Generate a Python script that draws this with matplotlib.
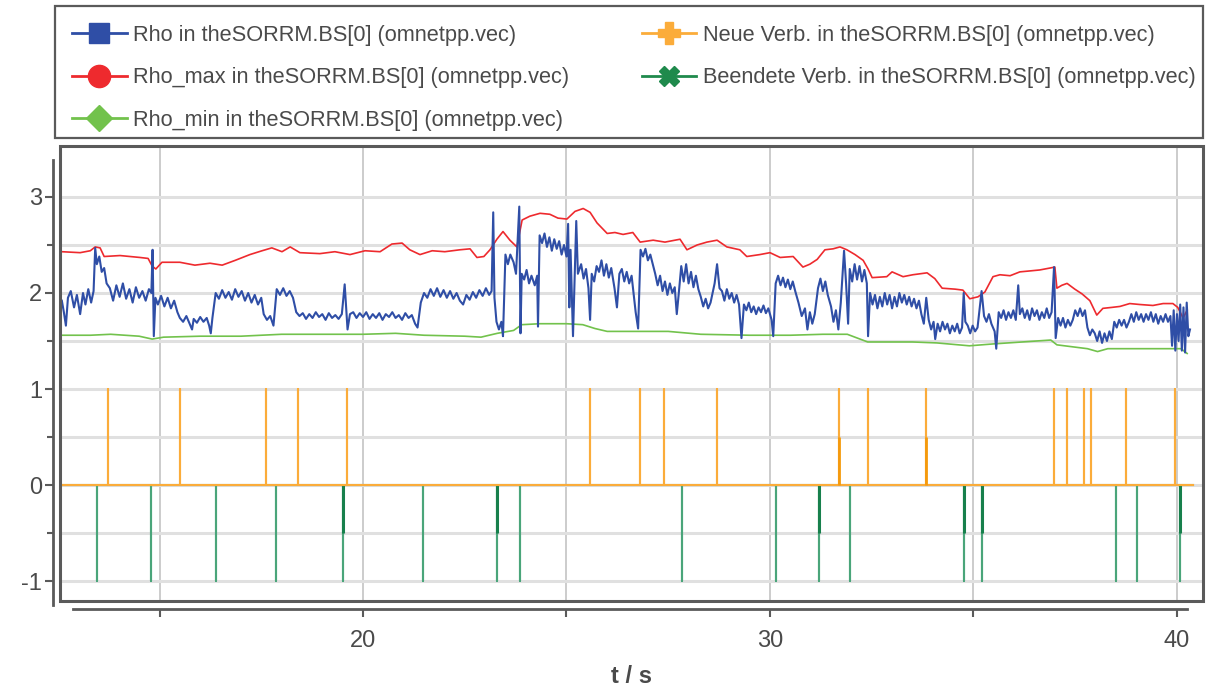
import matplotlib
matplotlib.use("Agg")
import matplotlib.pyplot as plt
from matplotlib.lines import Line2D
from matplotlib.patches import Rectangle

# ---------------------------------------------------------------- data
series_labels = [
    "Rho in theSORRM.BS[0] (omnetpp.vec)",
    "Rho_max in theSORRM.BS[0] (omnetpp.vec)",
    "Rho_min in theSORRM.BS[0] (omnetpp.vec)",
    "Neue Verb. in theSORRM.BS[0] (omnetpp.vec)",
    "Beendete Verb. in theSORRM.BS[0] (omnetpp.vec)",
]
x_label = "t / s"

# Rho (time [s], value)
rho = [
    (12.60, 1.92), (12.65, 1.80), (12.70, 1.66), (12.75, 1.95), (12.82, 2.02), (12.90, 1.85),
    (12.97, 1.98), (13.05, 1.78), (13.12, 2.00), (13.18, 1.88), (13.25, 2.04), (13.32, 1.90),
    (13.38, 2.02), (13.42, 2.47), (13.46, 2.30), (13.52, 2.38), (13.58, 2.22), (13.64, 2.26),
    (13.70, 2.10), (13.78, 2.05), (13.86, 1.92), (13.94, 2.08), (14.02, 1.96), (14.10, 2.10),
    (14.18, 1.94), (14.26, 2.04), (14.34, 1.90), (14.42, 2.06), (14.50, 1.95), (14.58, 2.02),
    (14.66, 1.92), (14.74, 2.04), (14.80, 2.00), (14.83, 2.45), (14.86, 1.55), (14.90, 1.95),
    (14.96, 1.88), (15.04, 1.97), (15.12, 1.86), (15.20, 1.95), (15.28, 1.84), (15.36, 1.92),
    (15.44, 1.80), (15.50, 1.74), (15.58, 1.70), (15.66, 1.76), (15.74, 1.68), (15.80, 1.62),
    (15.84, 1.73), (15.92, 1.69), (16.00, 1.75), (16.08, 1.70), (16.16, 1.74), (16.22, 1.66),
    (16.26, 1.58), (16.30, 1.74), (16.38, 2.00), (16.46, 1.94), (16.54, 2.03), (16.62, 1.95),
    (16.70, 2.01), (16.78, 1.93), (16.86, 2.04), (16.94, 1.96), (17.02, 2.02), (17.10, 1.92),
    (17.18, 2.00), (17.26, 1.90), (17.34, 1.98), (17.42, 1.88), (17.50, 1.95), (17.56, 1.78),
    (17.64, 1.72), (17.72, 1.76), (17.80, 1.66), (17.88, 2.04), (17.96, 1.98), (18.04, 2.05),
    (18.12, 1.97), (18.20, 2.02), (18.28, 1.95), (18.36, 1.80), (18.44, 1.76), (18.52, 1.79),
    (18.60, 1.73), (18.68, 1.78), (18.76, 1.74), (18.84, 1.80), (18.92, 1.75), (19.00, 1.78),
    (19.08, 1.72), (19.16, 1.79), (19.24, 1.74), (19.32, 1.77), (19.40, 1.73), (19.48, 1.78),
    (19.55, 2.09), (19.62, 1.62), (19.68, 1.78), (19.76, 1.80), (19.84, 1.74), (19.92, 1.79),
    (20.00, 1.75), (20.08, 1.80), (20.16, 1.73), (20.24, 1.78), (20.32, 1.74), (20.40, 1.79),
    (20.48, 1.72), (20.56, 1.78), (20.64, 1.75), (20.72, 1.80), (20.80, 1.74), (20.88, 1.77),
    (20.96, 1.72), (21.04, 1.79), (21.12, 1.74), (21.20, 1.77), (21.28, 1.68), (21.34, 1.64),
    (21.42, 1.90), (21.50, 2.00), (21.58, 1.95), (21.66, 2.04), (21.74, 1.97), (21.82, 2.05),
    (21.90, 1.96), (21.98, 2.03), (22.06, 1.95), (22.14, 2.02), (22.22, 1.94), (22.30, 2.00),
    (22.38, 1.92), (22.46, 1.88), (22.54, 1.98), (22.62, 1.93), (22.70, 2.01), (22.78, 1.95),
    (22.86, 2.03), (22.94, 1.97), (23.02, 2.05), (23.10, 1.98), (23.16, 2.02), (23.20, 2.84),
    (23.23, 1.95), (23.28, 1.70), (23.34, 1.62), (23.40, 1.70), (23.44, 1.55), (23.50, 2.40),
    (23.56, 2.30), (23.62, 2.40), (23.70, 2.32), (23.76, 2.20), (23.84, 2.90), (23.87, 1.58),
    (23.90, 2.20), (23.96, 2.14), (24.02, 2.24), (24.08, 2.10), (24.14, 2.18), (24.22, 2.08),
    (24.28, 2.18), (24.30, 1.65), (24.34, 2.60), (24.40, 2.52), (24.46, 2.62), (24.52, 2.48),
    (24.58, 2.58), (24.64, 2.44), (24.70, 2.56), (24.76, 2.46), (24.82, 2.54), (24.88, 2.40),
    (24.94, 2.50), (25.00, 2.38), (25.04, 2.72), (25.07, 1.85), (25.10, 2.45), (25.16, 1.55),
    (25.24, 2.75), (25.28, 2.20), (25.36, 2.30), (25.42, 2.15), (25.48, 2.25), (25.54, 2.05),
    (25.58, 1.72), (25.62, 2.20), (25.68, 2.12), (25.74, 2.28), (25.80, 2.22), (25.86, 2.34),
    (25.92, 2.18), (25.98, 2.30), (26.04, 2.16), (26.10, 2.26), (26.18, 2.05), (26.24, 1.85),
    (26.30, 2.20), (26.36, 2.25), (26.42, 2.12), (26.48, 2.22), (26.54, 2.10), (26.60, 2.18),
    (26.70, 1.80), (26.76, 1.63), (26.82, 2.45), (26.88, 2.38), (26.94, 2.46), (27.00, 2.34),
    (27.06, 2.40), (27.12, 2.30), (27.18, 2.20), (27.24, 2.08), (27.30, 2.18), (27.36, 2.02),
    (27.42, 2.12), (27.48, 1.98), (27.54, 2.10), (27.60, 2.00), (27.66, 2.06), (27.71, 1.78),
    (27.76, 2.00), (27.82, 2.28), (27.88, 2.12), (27.94, 2.30), (28.00, 2.10), (28.06, 2.22),
    (28.12, 2.06), (28.18, 2.18), (28.24, 2.04), (28.30, 1.96), (28.36, 1.86), (28.42, 1.94),
    (28.48, 1.84), (28.54, 1.90), (28.64, 2.10), (28.70, 2.30), (28.76, 2.05), (28.82, 2.02),
    (28.88, 1.92), (28.94, 2.04), (29.00, 1.94), (29.06, 2.00), (29.12, 1.90), (29.18, 1.98),
    (29.24, 1.88), (29.30, 1.53), (29.36, 1.88), (29.42, 1.82), (29.48, 1.90), (29.54, 1.80),
    (29.60, 1.86), (29.66, 1.78), (29.72, 1.85), (29.78, 1.80), (29.84, 1.87), (29.90, 1.79),
    (29.96, 1.84), (30.04, 1.72), (30.08, 1.55), (30.14, 2.10), (30.20, 2.18), (30.26, 2.08),
    (30.32, 2.16), (30.38, 2.06), (30.44, 2.14), (30.50, 2.04), (30.56, 2.12), (30.62, 2.02),
    (30.70, 1.90), (30.78, 1.76), (30.86, 1.84), (30.92, 1.62), (30.98, 1.80), (31.04, 1.68),
    (31.10, 1.78), (31.18, 2.05), (31.24, 2.15), (31.30, 2.02), (31.36, 2.12), (31.42, 1.98),
    (31.50, 1.86), (31.56, 1.70), (31.62, 1.82), (31.68, 1.62), (31.74, 1.90), (31.82, 2.44),
    (31.87, 2.10), (31.92, 1.68), (31.96, 2.25), (32.02, 2.12), (32.08, 2.30), (32.14, 2.14),
    (32.20, 2.28), (32.26, 2.12), (32.32, 2.24), (32.38, 2.10), (32.41, 1.55), (32.46, 2.00),
    (32.52, 1.88), (32.58, 1.98), (32.64, 1.84), (32.70, 1.96), (32.76, 1.86), (32.82, 2.00),
    (32.88, 1.88), (32.94, 1.98), (33.00, 1.84), (33.06, 1.96), (33.12, 1.86), (33.18, 2.00),
    (33.24, 1.90), (33.30, 1.98), (33.36, 1.88), (33.42, 1.96), (33.48, 1.86), (33.54, 1.94),
    (33.60, 1.84), (33.66, 1.92), (33.72, 1.78), (33.78, 1.68), (33.84, 1.95), (33.90, 1.72),
    (33.96, 1.62), (34.02, 1.70), (34.06, 1.52), (34.12, 1.68), (34.18, 1.60), (34.24, 1.70),
    (34.30, 1.62), (34.36, 1.68), (34.42, 1.58), (34.48, 1.66), (34.54, 1.60), (34.60, 1.68),
    (34.66, 1.58), (34.72, 1.64), (34.76, 2.00), (34.80, 1.70), (34.86, 1.66), (34.92, 1.58),
    (34.98, 1.66), (35.04, 1.60), (35.10, 1.64), (35.20, 2.02), (35.26, 1.76), (35.32, 1.70),
    (35.38, 1.78), (35.44, 1.68), (35.52, 1.60), (35.56, 1.42), (35.62, 1.80), (35.68, 1.74),
    (35.74, 1.82), (35.80, 1.72), (35.86, 1.80), (35.92, 1.74), (35.98, 1.82), (36.04, 1.72),
    (36.10, 2.08), (36.14, 1.78), (36.20, 1.84), (36.26, 1.74), (36.32, 1.82), (36.38, 1.72),
    (36.44, 1.84), (36.50, 1.76), (36.56, 1.82), (36.62, 1.72), (36.68, 1.80), (36.74, 1.74),
    (36.80, 1.84), (36.86, 1.74), (36.92, 1.80), (36.98, 2.27), (37.02, 1.53), (37.08, 1.74),
    (37.14, 1.66), (37.20, 1.74), (37.26, 1.64), (37.32, 1.72), (37.38, 1.66), (37.44, 1.72),
    (37.50, 1.82), (37.56, 1.76), (37.62, 1.84), (37.68, 1.76), (37.74, 1.82), (37.80, 1.64),
    (37.86, 1.56), (37.92, 1.62), (37.98, 1.58), (38.04, 1.50), (38.10, 1.60), (38.16, 1.48),
    (38.22, 1.58), (38.28, 1.50), (38.34, 1.60), (38.40, 1.52), (38.46, 1.70), (38.52, 1.64),
    (38.58, 1.72), (38.64, 1.66), (38.70, 1.72), (38.76, 1.64), (38.82, 1.70), (38.88, 1.78),
    (38.94, 1.70), (39.00, 1.80), (39.06, 1.72), (39.12, 1.78), (39.18, 1.70), (39.24, 1.78),
    (39.30, 1.72), (39.36, 1.80), (39.42, 1.70), (39.48, 1.78), (39.54, 1.68), (39.60, 1.76),
    (39.66, 1.70), (39.72, 1.78), (39.78, 1.70), (39.84, 1.76), (39.88, 1.45), (39.92, 1.82),
    (39.96, 1.40), (40.00, 1.78), (40.04, 1.50), (40.08, 1.88), (40.12, 1.40), (40.16, 1.85),
    (40.20, 1.38), (40.24, 1.90), (40.28, 1.55), (40.32, 1.62),
]

# Rho_max (time [s], value)
rho_max = [
    (12.60, 2.43), (13.05, 2.42), (13.30, 2.44), (13.42, 2.48), (13.54, 2.47), (13.64, 2.38),
    (14.03, 2.39), (14.52, 2.37), (14.72, 2.36), (14.82, 2.28), (14.91, 2.25), (15.06, 2.32),
    (15.50, 2.32), (15.87, 2.29), (16.24, 2.31), (16.54, 2.29), (16.86, 2.34), (17.22, 2.40),
    (17.52, 2.44), (17.76, 2.47), (18.01, 2.43), (18.21, 2.48), (18.45, 2.42), (18.94, 2.41),
    (19.31, 2.43), (19.68, 2.40), (20.05, 2.44), (20.42, 2.43), (20.71, 2.51), (20.96, 2.52),
    (21.15, 2.45), (21.40, 2.40), (21.70, 2.44), (22.01, 2.43), (22.38, 2.45), (22.63, 2.46),
    (22.80, 2.37), (22.97, 2.38), (23.12, 2.45), (23.29, 2.56), (23.44, 2.64), (23.61, 2.55),
    (23.78, 2.48), (23.91, 2.76), (24.10, 2.80), (24.35, 2.83), (24.59, 2.82), (24.79, 2.78),
    (25.01, 2.77), (25.21, 2.85), (25.41, 2.88), (25.58, 2.84), (25.75, 2.73), (26.00, 2.62),
    (26.19, 2.63), (26.39, 2.61), (26.63, 2.63), (26.81, 2.53), (27.13, 2.55), (27.42, 2.53),
    (27.79, 2.56), (27.96, 2.45), (28.21, 2.50), (28.45, 2.53), (28.70, 2.55), (28.94, 2.48),
    (29.26, 2.45), (29.43, 2.38), (29.75, 2.40), (30.00, 2.42), (30.25, 2.37), (30.57, 2.38),
    (30.81, 2.27), (30.98, 2.30), (31.16, 2.35), (31.35, 2.45), (31.55, 2.46), (31.72, 2.48),
    (31.89, 2.45), (32.09, 2.40), (32.29, 2.34), (32.41, 2.25), (32.51, 2.16), (32.87, 2.17),
    (33.00, 2.22), (33.27, 2.17), (33.51, 2.19), (33.86, 2.21), (34.05, 2.15), (34.23, 2.05),
    (34.55, 2.04), (34.74, 2.03), (34.91, 1.94), (35.11, 1.96), (35.28, 2.01), (35.48, 2.17),
    (35.65, 2.19), (35.90, 2.18), (36.14, 2.22), (36.39, 2.23), (36.63, 2.24), (36.88, 2.26),
    (37.00, 2.27), (37.05, 2.05), (37.17, 2.08), (37.30, 2.10), (37.49, 2.04), (37.67, 1.99),
    (37.86, 1.92), (38.03, 1.77), (38.18, 1.84), (38.40, 1.85), (38.60, 1.86), (38.84, 1.89),
    (39.09, 1.88), (39.41, 1.87), (39.66, 1.89), (39.90, 1.89), (40.02, 1.85), (40.15, 1.74),
    (40.25, 1.82),
]

# Rho_min (time [s], value)
rho_min = [
    (12.60, 1.56), (13.30, 1.56), (13.80, 1.57), (14.50, 1.55), (14.82, 1.52), (15.10, 1.54),
    (16.00, 1.55), (17.00, 1.55), (18.00, 1.57), (19.00, 1.57), (20.00, 1.57), (20.80, 1.58),
    (21.50, 1.56), (22.50, 1.55), (22.90, 1.54), (23.30, 1.58), (23.70, 1.61), (23.90, 1.67),
    (24.35, 1.68), (25.00, 1.68), (25.40, 1.67), (25.70, 1.63), (26.00, 1.60), (27.50, 1.60),
    (28.30, 1.57), (29.50, 1.56), (30.50, 1.56), (31.30, 1.57), (31.90, 1.57), (32.40, 1.49),
    (33.50, 1.49), (34.10, 1.48), (34.90, 1.45), (35.50, 1.47), (36.90, 1.51), (37.05, 1.46),
    (37.80, 1.42), (38.05, 1.39), (38.30, 1.42), (39.40, 1.42), (40.10, 1.42), (40.25, 1.37),
]

# connection events (time [s])
neue_verb = [13.73, 15.51, 17.61, 18.40, 19.60, 25.59, 26.80, 27.40, 28.69, 31.69,
             32.40, 33.83, 36.99, 37.29, 37.71, 37.89, 38.76, 39.94]
neue_verb_double = [31.69, 33.83]
beendete_verb = [13.47, 14.79, 16.39, 17.87, 19.52, 21.48, 23.29, 23.87, 27.83, 30.15,
                 31.20, 31.97, 34.76, 35.21, 38.50, 39.01, 40.07]
beendete_verb_double = [19.52, 23.29, 31.20, 34.76, 35.21, 40.07]
t_start, t_end = 12.60, 40.40

# ---------------------------------------------------------------- style
FAMILY = "Liberation Sans"
FS_TICK, FS_LEG = 17, 15.7
plt.rcParams["font.family"] = [FAMILY, "DejaVu Sans"]
plt.rcParams["axes.unicode_minus"] = False

C_RHO = "#2f4ea6"
C_MAX = "#ee2a2e"
C_MIN = "#72c24c"
C_NEU = "#fbac3a"
C_NEU_D = "#f59a0c"
C_END = "#4aa57a"
C_END_D = "#17804c"
C_TXT = "#4a4a4a"
C_AX = "#5a5a5a"

W, H = 1208, 690
fig = plt.figure(figsize=(W / 100, H / 100), dpi=100)
fig.patch.set_facecolor("white")

# axes frame in pixel terms
L, R, T, B = 60, 1203, 146, 601
ax = fig.add_axes([L / W, 1 - B / H, (R - L) / W, (B - T) / H])
ax.set_xlim(12.555, 40.64)
ax.set_ylim(-1.208, 3.531)


def spikes(times, level):
    xs, ys = [t_start], [0.0]
    for t in times:
        xs += [t, t, t]
        ys += [0.0, level, 0.0]
    xs.append(t_end)
    ys.append(0.0)
    return xs, ys


# Beendete Verb. (downward events)
bx, by = spikes(beendete_verb, -1.0)
ax.plot(bx, by, color=C_END, lw=1.5, zorder=3)
ax.vlines(beendete_verb_double, -0.5, 0.0, color=C_END_D, lw=2.2, zorder=3)

# Neue Verb. (upward events)
nx, ny = spikes(neue_verb, 1.0)
ax.plot(nx, ny, color=C_NEU, lw=1.5, zorder=4)
ax.vlines(neue_verb_double, 0.0, 0.5, color=C_NEU_D, lw=2.0, zorder=4)

# Rho curves
ax.plot([p[0] for p in rho_min], [p[1] for p in rho_min], color=C_MIN, lw=1.2, zorder=5)
ax.plot([p[0] for p in rho_max], [p[1] for p in rho_max], color=C_MAX, lw=1.2, zorder=5)
ax.plot([p[0] for p in rho], [p[1] for p in rho], color=C_RHO, lw=1.5, zorder=6)

# ticks and grid
ax.set_xticks([20, 30, 40])
ax.set_xticks([15, 25, 35], minor=True)
ax.set_yticks([-1, 0, 1, 2, 3])
ax.set_yticks([-0.5, 0.5, 1.5, 2.5], minor=True)
ax.xaxis.grid(True, which="both", color="#c8c8c8", lw=1.3, zorder=0)
ax.yaxis.grid(True, which="both", color="#e0e0e0", lw=2.2, zorder=0)
ax.set_axisbelow(True)

ax.tick_params(axis="both", which="both", direction="out", color=C_AX,
               labelsize=FS_TICK, labelcolor=C_TXT, width=1.5)
ax.tick_params(axis="y", which="major", length=6, pad=2)
ax.tick_params(axis="y", which="minor", length=4)
ax.tick_params(axis="x", which="both", length=6, pad=9)

for side in ("top", "right"):
    ax.spines[side].set_visible(False)
ax.spines["left"].set_position(("outward", 5))
ax.spines["bottom"].set_position(("outward", 6))
ax.spines["left"].set_bounds(-1.25, 3.38)
ax.spines["bottom"].set_bounds(12.87, 40.25)
for side in ("left", "bottom"):
    ax.spines[side].set_color(C_AX)
    ax.spines[side].set_linewidth(2.0)

# plot frame
ax.add_patch(Rectangle((0, 0), 1, 1, transform=ax.transAxes, fill=False,
                       edgecolor=C_AX, lw=2.2, clip_on=False, zorder=10))

ax.set_xlabel(x_label, fontsize=FS_TICK, fontweight="bold", color=C_TXT, labelpad=9)

# legend box
fig.add_artist(Rectangle((55 / W, 1 - 138 / H), (1203 - 55) / W, (138 - 6) / H,
                         transform=fig.transFigure, fill=False,
                         edgecolor=C_AX, lw=1.6))

handles = [
    Line2D([], [], color=C_RHO, lw=2, marker="s", markersize=14),
    Line2D([], [], color=C_MAX, lw=2, marker="o", markersize=16),
    Line2D([], [], color=C_MIN, lw=2, marker="D", markersize=13),
    Line2D([], [], color=C_NEU, lw=2, marker="P", markersize=16),
    Line2D([], [], color="#1f8a4c", lw=2, marker="X", markersize=15),
]
fig.legend(handles, series_labels, loc="upper left",
           bbox_to_anchor=(72 / W, 1 - 25 / H), ncol=2, frameon=False,
           fontsize=FS_LEG, labelcolor=C_TXT, handlelength=2.5, handletextpad=0.3,
           borderpad=0, borderaxespad=0, labelspacing=0.98, columnspacing=3.32)

fig.savefig("out.png", dpi=100)
